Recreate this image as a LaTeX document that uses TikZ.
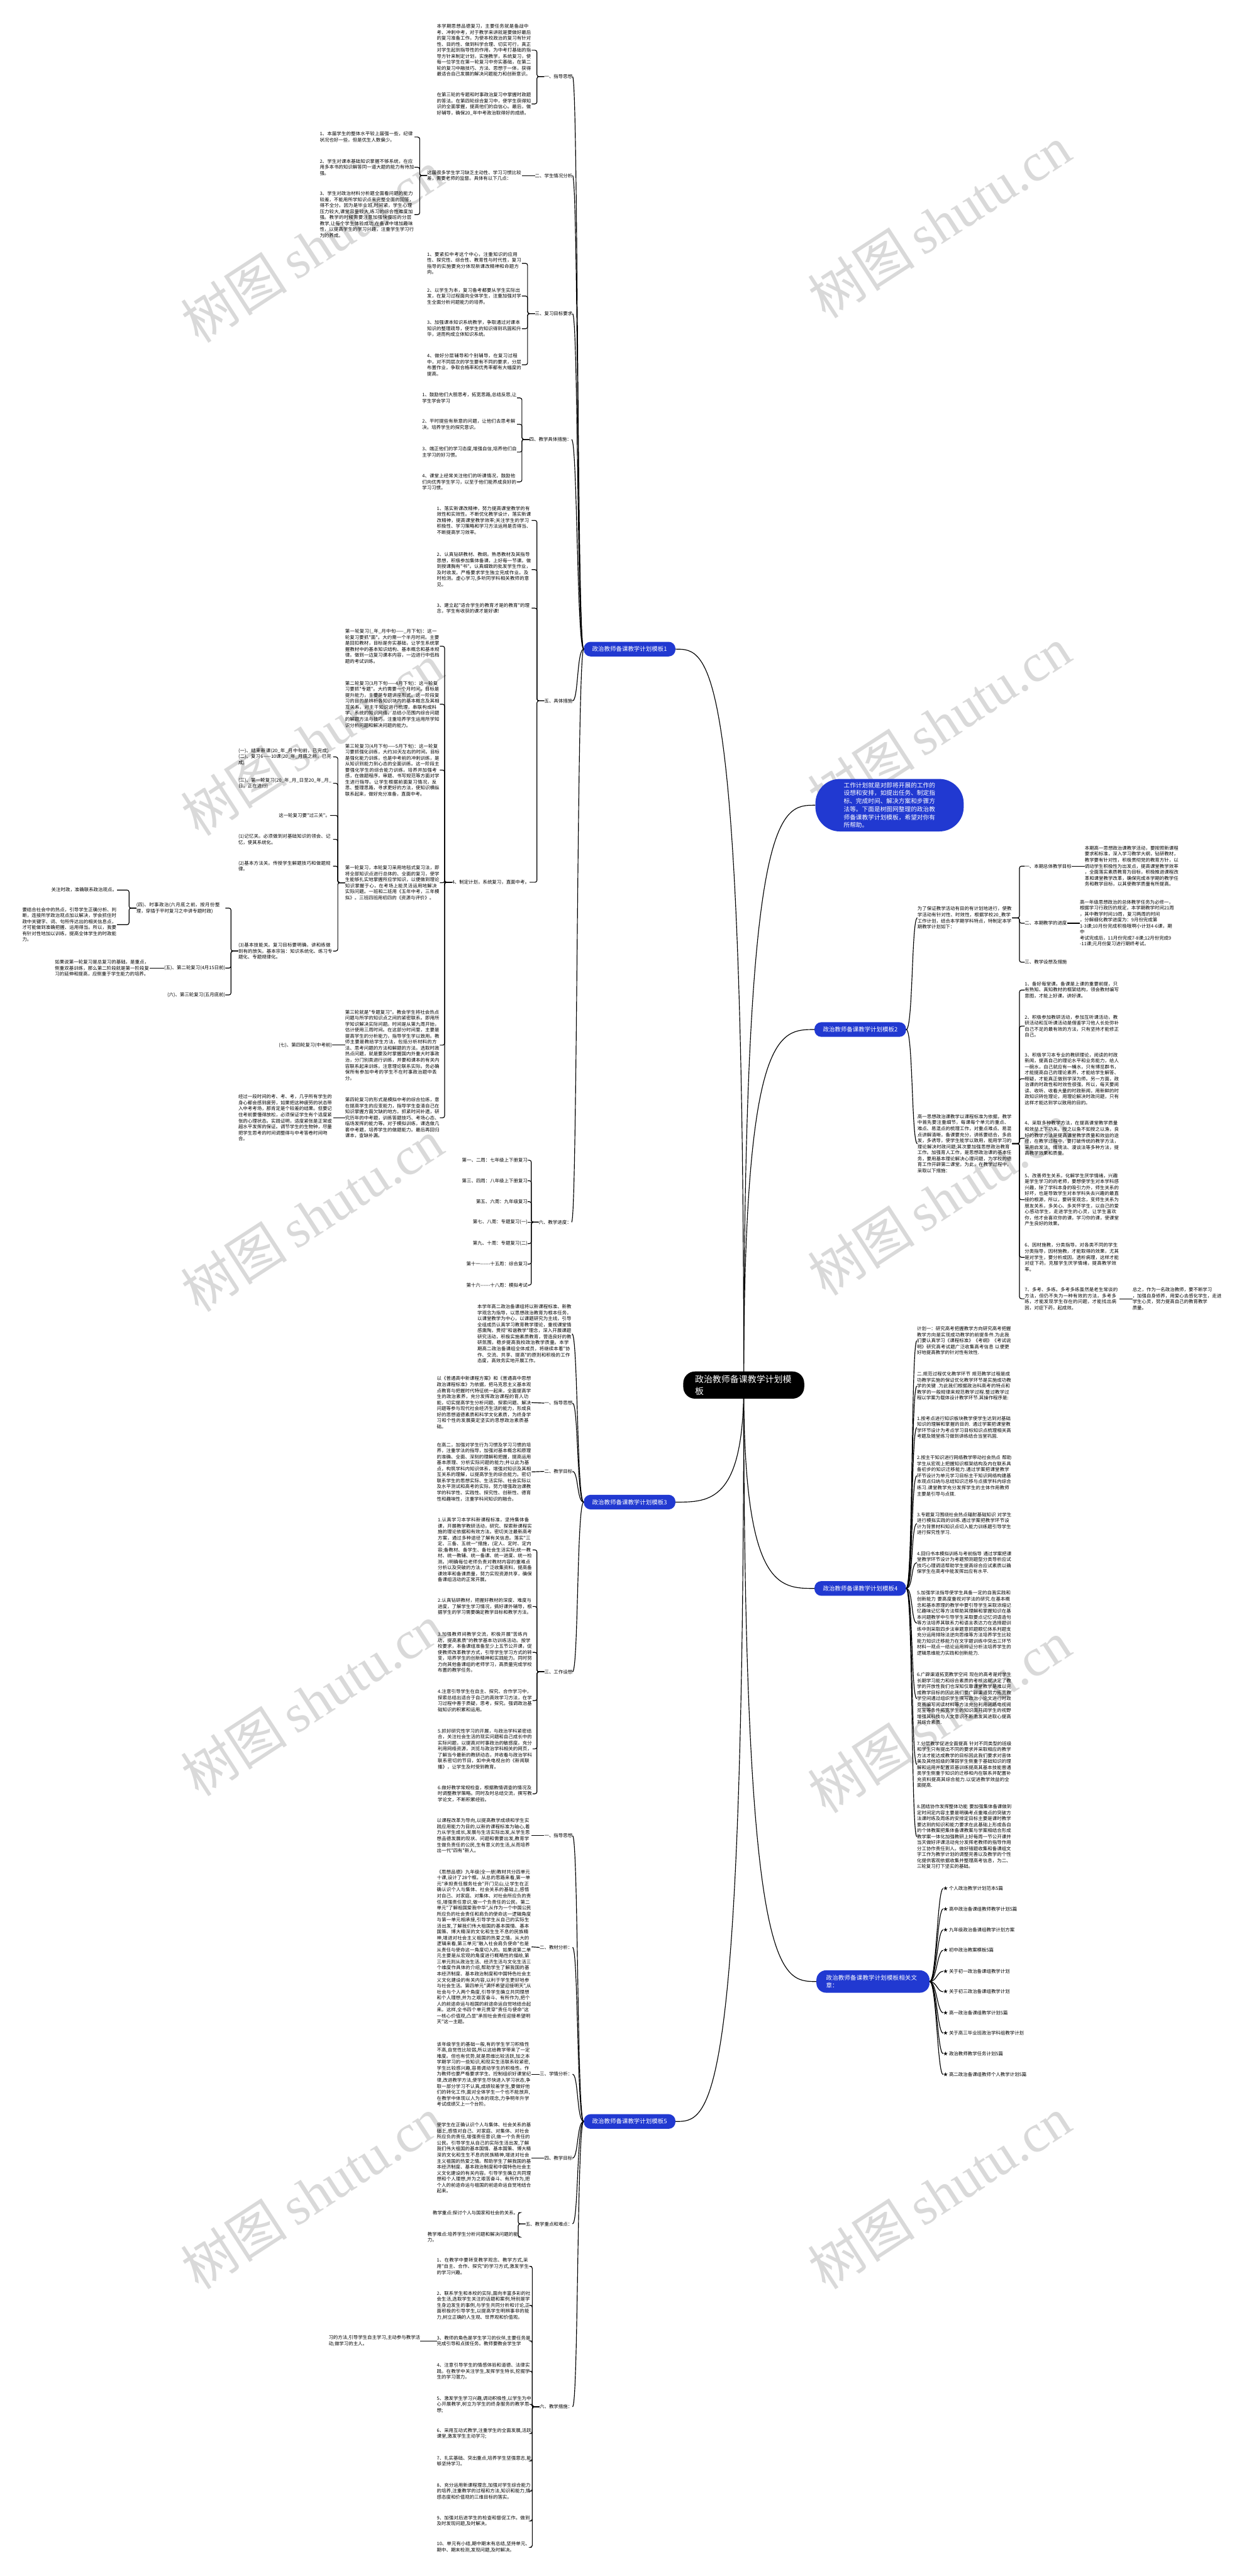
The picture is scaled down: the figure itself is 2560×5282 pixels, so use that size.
\documentclass[tikz,border=0pt]{standalone}
\usepackage{fontspec}
\newfontfamily\cjk{Noto Sans CJK SC}
\newfontfamily\wmlat{Liberation Serif}
\usetikzlibrary{calc}
\XeTeXlinebreaklocale "zh"
\XeTeXlinebreakskip=0pt plus 1pt
\definecolor{pblue}{HTML}{2139D1}
\pgfdeclarelayer{bg}
\pgfdeclarelayer{wmk}
\pgfsetlayers{bg,wmk,main}
\newcommand\tfnt{\cjk\fontsize{9.6}{12.3}\selectfont\lineskiplimit=-20pt\lineskip=0pt}
\newcommand\pfnt{\cjk\fontsize{12.2}{16}\selectfont}
\newcommand\ifnt{\cjk\fontsize{12.5}{16.4}\selectfont\lineskiplimit=-20pt}
\newcommand\cfnt{\cjk\fontsize{18}{25}\selectfont}
\newcommand\wmfnt{\fontsize{110}{110}\selectfont}
\newcommand\brL[2]{\draw[brk] (#1.west) -- ++(-15,0) |- (#2.east);}
\newcommand\brR[2]{\draw[brk] (#1.east) -- ++(15,0) |- (#2.west);}
\newcommand\cvL[2]{\draw[crv] (#1.west) .. controls +(-14,0) and +(12,0) .. (#2.east);}
\newcommand\cvR[2]{\draw[crv] (#1.east) .. controls +(14,0) and +(-12,0) .. (#2.west);}
\newcommand\stL[2]{\draw[crv] (#1.west) -- (#2.east);}
\newcommand\stR[2]{\draw[crv] (#1.east) -- (#2.west);}
\newcommand\ctL[1]{\draw[crv] (ctr.center) .. controls (ctr.center |- #1.east) and ($(ctr.center |- #1.east)!0.5!(#1.east)$) .. (#1.east);}
\newcommand\ctR[1]{\draw[crv] (ctr.center) .. controls (ctr.center |- #1.west) and ($(ctr.center |- #1.west)!0.5!(#1.west)$) .. (#1.west);}
\tikzset{
  txtL/.style={font=\tfnt, text width=194pt, align=left, inner sep=0pt, anchor=east},
  txtR/.style={font=\tfnt, text width=194pt, align=left, inner sep=0pt, anchor=west},
  lblL/.style={font=\tfnt, inner sep=0pt, anchor=east},
  lblR/.style={font=\tfnt, inner sep=0pt, anchor=west},
  brk/.style={line width=1.5pt, rounded corners=4pt},
  crv/.style={line width=1.5pt},
  pill/.style={fill=pblue, text=white, font=\pfnt, rounded corners=14pt, minimum height=30pt, minimum width=188pt, inner sep=0pt},
  wm/.style={text=black!15, rotate=33, inner sep=0pt, font=\wmfnt},
}
\begin{document}
\begin{tikzpicture}[x=1pt,y=-1pt]
\useasboundingbox (0,0) rectangle (2560,5282);
\begin{pgfonlayer}{bg}
\fill[white] (0,0) rectangle (2560,5282);
\end{pgfonlayer}

% ---------- watermarks ----------
\begin{pgfonlayer}{wmk}
\foreach \wx/\wy [count=\i] in {640/505,640/1516,640/2492,640/3486,640/4496,1926/455,1926/1482,1926/2459,1926/3520,1926/4496}
  \node[wm] (wm\i) at (\wx,\wy) {{\cjk 树图}\,{\wmlat shutu.cn}};
\end{pgfonlayer}

% ---------- center ----------
\node[fill=black, text=white, font=\cfnt, rounded corners=24pt, text width=200pt, align=left, inner xsep=24pt, inner ysep=7pt] (ctr) at (1525,2840) {政治教师备课教学计划模\\板};

% intro
\node[fill=pblue, text=white, font=\ifnt, rounded corners=50pt, text width=188pt, align=left, inner xsep=58pt, inner ysep=7pt] (intro) at (1824,1651) {工作计划就是对即将开展的工作的设想和安排，如提出任务、制定指标、完成时间、解决方案和步骤方法等。下面是树图网整理的政治教师备课教学计划模板，希望对你有所帮助。};

% ---------- branch nodes ----------
\node[pill] (B1) at (1291,1331) {政治教师备课教学计划模板1};
\node[pill] (B2) at (1764,2111) {政治教师备课教学计划模板2};
\node[pill] (B3) at (1291,3080) {政治教师备课教学计划模板3};
\node[pill] (B4) at (1764,3257) {政治教师备课教学计划模板4};
\node[pill] (B5) at (1291,4350) {政治教师备课教学计划模板5};
\node[pill, text width=192pt, align=left, minimum height=46pt, rounded corners=20pt, inner xsep=20pt] (B6) at (1790,4063) {政治教师备课教学计划模板相关文章：};

\begin{pgfonlayer}{bg}
\ctR{intro}
\ctL{B1}\ctR{B2}\ctL{B3}\ctR{B4}\ctL{B5}\ctR{B6}
\end{pgfonlayer}

% ================= Branch 1 =================
\node[lblL] (p1) at (1174,157) {一、指导思想};
\node[lblL] (p2) at (1174,360) {二、学生情况分析};
\node[lblL] (p3) at (1174,643) {三、复习目标要求};
\node[lblL] (p4) at (1172,901) {四、教学具体措施：};
\node[lblL] (p5) at (1174,1437) {五、具体措施};
\node[lblL] (p6) at (1172,2506) {六、教学进度：};
\cvL{B1}{p1}\cvL{B1}{p2}\cvL{B1}{p3}\cvL{B1}{p4}\cvL{B1}{p5}\cvL{B1}{p6}

\node[txtL] (a1) at (1090,103) {本学期思想品德复习，主要任务就是备战中考、冲刺中考，对于教学来讲就是要做好最后的复习准备工作。为使本校政治的复习有针对性、目的性、做到科学合理、切实可行，真正对学生起到指导性的作用，为中考打基础的指导方针来制定计划，实施教学，系统复习，使每一位学生在第一轮复习中夯实基础，在第二轮的复习中融技巧、方法、思想于一体，获得最适合自己发展的解决问题能力和创新意识。};
\node[txtL] (a2) at (1090,213) {在第三轮的专题和时事政治复习中掌握时政题的答法。在第四轮综合复习中，使学生获得知识的全面掌握，提高他们的自信心。最后，做好辅导，确保20\_年中考政治取得好的成绩。};
\brL{p1}{a1}\brL{p1}{a2}

\node[txtL] (b0) at (1070,360) {这届很多学生学习缺乏主动性、学习习惯比较差，需要老师的监督。具体有以下几点：};
\stL{p2}{b0}
\node[txtL] (b1) at (850,281) {1、本届学生的整体水平较上届强一些，纪律状况也好一些，但是优生人数偏少。};
\node[txtL] (b2) at (850,343) {2、学生对课本基础知识掌握不够系统，在应用多本书的知识解答同一道大题的能力有待加强。};
\node[txtL] (b3) at (850,440) {3、学生对政治材料分析题全面看问题的能力较差，不能用所学知识点来完整全面的回答，得不全分。因为是毕业班,时间紧，学生心理压力较大,课堂容量较大,练习的综合性难度加强。教学的时候需要注意加强快慢班的分层教学,让每个学生体验成功,在备课中增加趣味性，以提高学生的学习兴趣，注重学生学习行为的养成。};
\brL{b0}{b1}\brL{b0}{b2}\brL{b0}{b3}

\node[txtL] (c1) at (1070,540) {1、要紧扣中考这个中心，注重知识的应用性、探究性、综合性、教育性与时代性，复习指导的实施要充分体现新课改精神和命题方向。};
\node[txtL] (c2) at (1070,607) {2、以学生为本，复习备考都要从学生实际出发，在复习过程面向全体学生，注重加强对学生全面分析问题能力的培养。};
\node[txtL] (c3) at (1070,674) {3、加强课本知识系统教学，争取通过对课本知识的整理疏导，使学生的知识得到巩固和升华，进而构成立体知识系统。};
\node[txtL] (c4) at (1070,748) {4、做好分层辅导和个别辅导，在复习过程中，对不同层次的学生要有不同的要求，分层布置作业，争取合格率和优秀率都有大幅度的提高。};
\brL{p3}{c1}\brL{p3}{c2}\brL{p3}{c3}\brL{p3}{c4}

\node[txtL] (d1) at (1060,816) {1、鼓励他们大胆思考，拓宽思路,总结反思,让学生学会学习};
\node[txtL] (d2) at (1060,870) {2、平时提些有新意的问题，让他们去思考解决。培养学生的探究意识。};
\node[txtL] (d3) at (1060,927) {3、端正他们的学习态度,增强自信,培养他们自主学习的好习惯。};
\node[txtL] (d4) at (1060,988) {4、课堂上经常关注他们的听课情况，鼓励他们向优秀学生学习，以至于他们能养成良好的学习习惯。};
\brL{p4}{d1}\brL{p4}{d2}\brL{p4}{d3}\brL{p4}{d4}

\node[txtL] (e1) at (1090,1067) {1、落实新课改精神，努力提高课堂教学的有效性和实效性。不断优化教学设计，落实新课改精神，提高课堂教学效率;关注学生的学习积极性、学习策略和学习方法运用是否得当、不断提高学习效率。};
\node[txtL] (e2) at (1090,1168) {2、认真钻研教材、教纲。熟悉教材及其指导思想，积极参加集体备课，上好每一节课。做到授课胸有"书"。认真细致的批发学生作业，及时收发。严格要求学生独立完成作业。及时检测。虚心学习,多听同学科相关教师的意见。};
\node[txtL] (e3) at (1090,1247) {3、建立起"适合学生的教育才是的教育"的理念，学生有收获的课才是好课!};
\node[lblL] (e4) at (1086,1809) {4、制定计划，系统复习，直面中考。};
\brL{p5}{e1}\brL{p5}{e2}\brL{p5}{e3}\brL{p5}{e4}

\node[txtL] (f1) at (902,1325) {第一轮复习(\_年\_月中旬——\_月下旬)：这一轮复习要抓"面"。大约需一个半月时间。主要是回扣教材，目标是夯实基础，让学生系统掌握教材中的基本知识结构、基本概念和基本规律。做到一边复习课本内容，一边进行中低档题的考试训练。};
\node[txtL] (f2) at (902,1444) {第二轮复习(3月下旬——4月下旬)：这一轮复习要抓"专题"。大约需要一个月时间。目标是提升能力，主要是专题讲座形式。这一阶段复习的目的是辨析各知识块内的基本概念及其相互关系，对主干知识进行梳理，串联构成科学、系统的知识网络，总结小范围内综合问题的解题方法与技巧，注重培养学生运用所学知识分析问题和解决问题的能力。};
\node[txtL] (f3) at (902,1579) {第三轮复习(4月下旬——5月下旬)：这一轮复习要抓强化训练，大约30天左右的时间。目标是强化能力训练，也是中考前的冲刺训练，是从知识到能力到心态的全面训练。这一阶段主要强化学生的综合能力训练，培养并加强考感，在做题程序，审题、书写规范等方面对学生进行指导。让学生根据前面复习情况，反思、整理思路，寻求更好的方法，使知识横纵联系起来，做好充分准备，直面中考。};
\node[txtL] (f4) at (902,1810) {第一轮复习，本轮复习采用地毯式复习法，即将全部知识点进行总体的、全面的复习，使学生能够扎实地掌握所应学知识，以便做到理论知识掌握于心，在考场上能灵活运用地解决实际问题。一班和二班用《五年中考，三年模拟》。三班四班用初四的《资源与评价》。};
\node[txtL] (f5) at (902,2143) {第三轮就是"专题复习"。教会学生将社会热点问题与所学的知识点之间的紧密联系。即用所学知识解决实际问题。时间是从第九周开始，估计使用三周时间。在这部分时间里，主要是提高学生的分析能力，指导学生学以致用。教师主要是教给学生方法，包括分析材料的方法、思考问题的方法和解题的方法。选取时政热点问题，就是要及时掌握国内外重大时事政治，分门别类进行训练，并要和课本的有关内容联系起来训练，注意理论联系实际。务必确保所有参加中考的学生不在时事政治题中丢分。};
\node[txtL] (f6) at (902,2292) {第四轮复习的形式是模拟中考的综合拉练，意在提高学生的应变能力，指导学生查清自己在知识掌握方面欠缺的地方。抓紧时间补遗，研究历年的中考题，训练答题技巧、考场心态、临场发挥的能力等。对于模拟训练，课选做几套中考题，培养学生的做题能力。最后再回归课本，查缺补漏。};
\brL{e4}{f1}\brL{e4}{f2}\brL{e4}{f3}\brL{e4}{f4}\brL{e4}{f5}\brL{e4}{f6}

\node[txtL] (g1) at (683,1552) {(一)、结束新课(20\_年\_月中旬前，已完成)(二)、复习6——10课(20\_年\_月底之前，已完成)};
\node[txtL] (g2) at (683,1606) {(三)、第一轮复习(20\_年\_月\_日至20\_年\_月\_日，正在进行)};
\node[lblL] (g3) at (677,1672) {这一轮复习要"过三关"。};
\node[txtL] (g4) at (683,1721) {(1)记忆关。必须做到对基础知识的领会、记忆，使其系统化。};
\node[txtL] (g5) at (683,1776) {(2)基本方法关。传授学生解题技巧和做题规律。};
\node[txtL] (g6) at (683,1950) {(3)基本技能关。复习目标要明确，讲和练做到有的放矢。基本宗旨：知识系统化、练习专题化、专题规律化。};
\brL{f4}{g1}\brL{f4}{g2}\brL{f4}{g3}\brL{f4}{g4}\brL{f4}{g5}\brL{f4}{g6}

\node[txtL, text width=182pt] (h1) at (462,1862) {(四)、时事政治(六月底之前，按月份整理，穿插于平时复习之中讲专题时政)};
\node[lblL] (h2) at (462,1985) {(五)、第二轮复习(4月15日前)};
\node[lblL] (h3) at (462,2040) {(六)、第三轮复习(五月底前)};
\brL{g6}{h1}\brL{g6}{h2}\brL{g6}{h3}

\node[lblL] (i1) at (240,1825) {关注时政，准确联系政治观点。};
\node[txtL] (i2) at (240,1896) {要结合社会中的热点，引导学生正确分析、判断，连接所学政治观点加以解决，学会抓住时政中关键字、词、句所传达出的相关信息点，才可能做到准确把握、运用得当。所以，我要有针对性地加以训练，提高全体学生的时政能力。};
\brL{h1}{i1}\brL{h1}{i2}
\node[txtL] (j1) at (307,1985) {如果说第一轮复习是总复习的基础，是重点，侧重双基训练，那么第二阶段就是第一阶段复习的延伸和提高，应侧重于学生能力的培养。};
\stL{h2}{j1}
\node[lblL] (k1) at (681,2143) {(七)、第四轮复习(中考前)};
\stL{f5}{k1}
\node[txtL] (l1) at (683,2292) {经过一段时间的考、考、考，几乎所有学生的\\身心都会感到疲劳，如果把这种疲劳的状态带\\入中考考场，那肯定是个较差的结果。但要记\\住考前要懂得放松，必须保证学生有个适度紧\\张的心理状态。实践证明，适度紧张是正常或\\超水平发挥的保证。调节学生的生物钟，尽量\\把学生思考的时间调整得与中考答卷时间吻\\合。};
\stL{f6}{l1}

\node[lblL] (m1) at (1082,2379) {第一、二周：七年级上下册复习};
\node[lblL] (m2) at (1082,2421) {第三、四周：八年级上下册复习};
\node[lblL] (m3) at (1082,2464) {第五、六周：九年级复习};
\node[lblL] (m4) at (1082,2506) {第七、八周：专题复习(一)};
\node[lblL] (m5) at (1082,2550) {第九、十周：专题复习(二)};
\node[lblL] (m6) at (1082,2592) {第十一-{}-{}-{}-{}-{}-十五周：综合复习};
\node[lblL] (m7) at (1082,2635) {第十六-{}-{}-{}-{}-{}-十八周：模拟考试};
\brL{p6}{m1}\brL{p6}{m2}\brL{p6}{m3}\stL{p6}{m4}\brL{p6}{m5}\brL{p6}{m6}\brL{p6}{m7}

% ================= Branch 2 =================
\node[txtR] (n1) at (1881,1882) {为了保证教学活动有目的有计划地进行，使教学活动有针对性、时效性，根据学校20\_教学工作计划，结合本学期学科特点，特制定本学期教学计划如下：};
\node[txtR] (n2) at (1881,2345) {高一思想政治课教学以课程标准为依据，教学中首先要注重细节，每课每个单元的重点、难点、易混点的梳理工作，对重点难点、易混点讲解清晰，备课要充分，讲练要结合，多启发，多诱导，使学生能学以致用，能用学习的理论解决时政问题;其次要加强思想政治教育工作。加强育人工作，是思想政治课的基本任务，要用基本理论解决心理问题，为学校的德育工作开辟第二课堂。为此，在教学过程中，采取以下措施：};
\cvR{B2}{n1}\cvR{B2}{n2}

\node[lblR] (q1) at (2101,1776) {一、本期总体教学目标};
\node[lblR] (q2) at (2101,1893) {二、本期教学的进度};
\node[lblR] (q3) at (2101,1973) {三、教学设想及措施};
\brR{n1}{q1}\brR{n1}{q2}\brR{n1}{q3}
\node[txtR] (q1c) at (2224,1776) {本期高一思想政治课教学活动，要按照新课程\\要求和标准，深入学习教学大纲，钻研教材，\\教学要有针对性，积极贯彻党的教育方针，以\\调动学生积极性为出发点，提高课堂教学效率\\，全面落实素质教育为目标，积极推进课程改\\革和课堂教学改革，确保完成本学期的教学任\\务和教学目标，以其使教学质量有所提高。};
\node[txtR] (q2c) at (2214,1893) {高一年级思想政治的总体教学任务为必修一，\\根据学习行政历的规定，本学期教学时间21周\\，其中教学时间19周，复习两周的时间\\，分解细化教学进度为：9月份完成第\\1-3课;10月份完成积极哦啊小计划4-6课，期中\\考试完成后，11月份完成7-8课;12月份完成9\\-11课;元月份复习进行期终考试。};
\stR{q1}{q1c}\stR{q2}{q2c}

\node[txtR] (r1) at (2101,2030) {1、备好每堂课。备课是上课的重要前提，只有熟知、真知教材的框架结构，领会教材编写意图，才能上好课，讲好课。};
\node[txtR] (r2) at (2101,2104) {2、积极参加教研活动，参加互听课活动，教研活动和互听课活动是借鉴学习他人长处弥补自己不足的最有效的方法，只有坚持才能修正自己。};
\node[txtR] (r3) at (2101,2212) {3、积极学习本专业的教研理论，阅读的时政新闻，提高自己的理论水平和业务能力，给人一碗水，自己就应有一桶水，只有博览群书，才能提高自己的理论素养，才能给学生解答、释疑，才能真正做到学深为师。另一方面，政治课的时政性和时效性很强，所以，每天要阅读、收听、收看大量的时政新闻，用新鲜的时政知识转佐理论，用理论解决时政问题，只有这样才能达到学以致用的目的。};
\node[txtR] (r4) at (2101,2334) {4、采取多种教学方法，在提高课堂教学质量和效益上下功夫。授之以鱼不如授之以渔，良好的教学方法是提高课堂教学质量和效益的途径，在教学过程中，要打破传统的教学方法，采用启发法、情境法、漫谈法等多种方法，提高教学效果和质量。};
\node[txtR] (r5) at (2101,2460) {5、改善师生关系，化解学生厌学情绪，兴趣是学生学习的的老师，要想使学生对本学科感兴趣，除了学科本身的吸引力外，师生关系的好坏，也是导致学生对本学科失去兴趣的最直接的根源，所以，要转变观念，变师生关系为朋友关系，多关心、多关怀学生，以自己的爱心感动学生，走进学生的心灵，让学生喜欢你，他才会喜欢你的课，学习你的课，使课堂产生良好的效果。};
\node[txtR] (r6) at (2101,2578) {6、因材施教，分类指导。对各类不同的学生分类指导，因材施教，才能取得的效果，尤其是对学生，要分析成因，透析病理，这样才能对症下药，克服学生厌学情绪，提高教学效率。};
\node[txtR] (r7) at (2101,2663) {7、多考、多练。多考多练虽然是老生常谈的方法，但仍不失为一种有效的方法，多考多练，才能发现学生存在的问题，才能找出病因，对症下药，起成效。};
\brR{n2}{r1}\brR{n2}{r2}\brR{n2}{r3}\brR{n2}{r4}\brR{n2}{r5}\brR{n2}{r6}\brR{n2}{r7}
\node[txtR] (r7c) at (2322,2663) {总之，作为一名政治教师，要不断学习\\，加强自身修养，用爱心去感化学生，走进\\学生心灵，努力提高自己的教育教学\\质量。};
\stR{r7}{r7c}

% ================= Branch 3 =================
\node[txtL] (s0) at (1173,2735) {本学年高二政治备课组将以新课程标准、新教学观念为指导，以思想政治教育为根本任务，以课堂教学为中心，以课题研究为主线，引导全组成员认真学习教育教学理论，重视课堂情感熏陶，贯彻"和谐教学"理念，深入开展课题研究活动，积极实施素质教育，营造良好的教研氛围，稳步提高我校政治教学质量。本学期高二政治备课组全体成员，将继续本着"协作、交流、共享、提高"的原则和积极的工作态度，高效务实地开展工作。};
\node[lblL] (s1) at (1174,2877) {一、指导思想};
\node[lblL] (s2) at (1174,3017) {二、教学目标};
\node[lblL] (s3) at (1174,3428) {三、工作设想};
\cvL{B3}{s0}\cvL{B3}{s1}\cvL{B3}{s2}\cvL{B3}{s3}
\node[txtL] (s1c) at (1090,2876) {以《普通高中新课程方案》和《普通高中思想政治课程标准》为依据，把马克思主义基本观点教育与把握时代特征统一起来，全面提高学生的政治素养，充分发挥政治课程的育人功能，切实提高学生分析问题、探索问题、解决问题等参与现代社会经济生活的能力，形成良好的思想道德素质和科学文化素质，为终身学习和个性的发展奠定坚实的思想政治素质基础。};
\node[txtL] (s2c) at (1090,3018) {在高二，加强对学生行为习惯及学习习惯的培养，注重学法的指导，加强对基本概念和原理的准确、全面、深刻的理解和把握，提高运用基本原理、分析实际问题的能力;并以此为基点，构筑学科内知识体系，增强对知识及其相互关系的理解，以提高学生的综合能力。密切联系学生的思想实际、生活实际、社会实际以及水平测试和高考的实际，努力增强政治课教学的科学性、实践性、探究性、创新性、德育性和趣味性，注重学科间知识的融合。};
\stL{s1}{s1c}\stL{s2}{s2c}
\node[txtL] (t1) at (1092,3178) {1.认真学习本学科新课程标准，坚持集体备课，开展教学教研活动，研究、探索新课程实施的理论依据和有效方法。密切关注最新高考方案，通过多种途径了解有关信息。落实"三定、三备、五统一"措施，(定人、定时、定内容;备教材、备学生、备社会生活实际;统一教材、统一教辅、统一备课、统一进度、统一检测。)明确每位老师负责对教材内容的重难点分析以及突破的方法，广泛收集资料，提高备课效率和备课质量，努力实现资源共享，确保备课组活动的正常开展。};
\node[txtL] (t2) at (1092,3294) {2.认真钻研教材，把握好教材的深度、难度与进度，了解学生学习情况，搞好课外辅导，根据学生的学习需要确定教学目标和教学方法。};
\node[txtL] (t3) at (1092,3388) {3.加强教师间教学交流，积极开展"苦练内功，提高素质"的教学基本功训练活动。按学校要求，本备课组准备至少上五节公开课，促使教师改革教学方式，引导学生学习方式的转变，培养学生的创新精神和实践能力。同时努力向其他备课组的老师学习，高质量完成学校布置的教学任务。};
\node[txtL] (t4) at (1092,3487) {4.注意引导学生在自主、探究、合作学习中，探索总结出适合于自己的高效学习方法，在学习过程中善于质疑，思考，探究。强调政治基础知识的积累和运用。};
\node[txtL] (t5) at (1092,3586) {5.抓好研究性学习的开展，与政治学科紧密结合，关注社会生活的现实问题和自己成长中的实际问题，以提高对时事政治的敏感度。充分利用网络资源，浏览与政治学科相关的网页，了解当今最新的教研动态，并收看与政治学科联系密切的节目，如中央电视台的《新闻联播》，让学生及时受到教育。};
\node[txtL] (t6) at (1092,3678) {6.做好教学常规检查，根据教情调查的情况及时调整教学策略。同时及时总结交流，撰写教学论文，不断积累经验。};
\brL{s3}{t1}\brL{s3}{t2}\brL{s3}{t3}\brL{s3}{t4}\brL{s3}{t5}\brL{s3}{t6}

% ================= Branch 5 =================
\node[lblL] (u1) at (1174,3764) {一、指导思想};
\node[lblL] (u2) at (1174,3993) {二、教材分析：};
\node[lblL] (u3) at (1174,4253) {三、学情分析：};
\node[lblL] (u4) at (1174,4425) {四、教学目标};
\node[lblL] (u5) at (1174,4560) {五、教学重点和难点：};
\node[lblL] (u6) at (1174,4935) {六、教学措施：};
\cvL{B5}{u1}\cvL{B5}{u2}\cvL{B5}{u3}\cvL{B5}{u4}\cvL{B5}{u5}\cvL{B5}{u6}
\node[txtL] (u1c) at (1090,3764) {以课程改革为导向,以提高教学成绩和学生实践应用能力为目的,以新的课程标准为轴心,着力从学生成长,发展与生活实际出发,从学生思想品德发展的现状、问题和需要出发,教育学生做负责任的公民,生有意义的生活,从而培养出一代"四有"新人。};
\node[txtL] (u2c) at (1090,3992) {《思想品德》九年级(全一册)教材共分四单元十课,设计了28个框。从总的思路来看,第一单元"承担责任服务社会"开门见山,让学生在正确认识个人与集体、社会关系的基础上,感悟对自己、对家庭、对集体、对社会所应负的责任,增强责任意识,做一个负责任的公民。第二单元"了解祖国爱我中华",从作为一个中国公民所应负的社会责任和肩负的使命这一逻辑角度与第一单元相承接,引导学生从自己的实际生活出发,了解我们伟大祖国的基本国情、基本国策、博大精深的文化和生生不息的民族精神,增进对社会主义祖国的热爱之情。从大的逻辑来看,第三单元"融入社会肩负使命"也是从责任与使命这一角度切入的。如果说第二单元主要是从宏观的角度进行概略性的描绘,第三单元则从政治生活、经济生活与文化生活三个维度作具体的介绍,帮助学生了解我国的基本经济制度、基本政治制度和中国特色社会主义文化建设的有关内容,以利于学生更好地参与社会生活。第四单元"满怀希望迎接明天",从社会与个人两个角度,引导学生确立共同理想和个人理想,并为之艰苦奋斗、有所作为,把个人的前途命运与祖国的前途命运自觉地结合起来。这样,全书四个单元贯穿"责任与使命"这一核心价值观,凸显"承担社会责任迎接希望明天"这一主题。};
\node[txtL] (u3c) at (1090,4253) {该年级学生的基础一般,有的学生学习积极性不高,自觉性比较弱,所以这给教学带来了一定难度。但也有优势,就是思维比较活跃,加之本学期学习的一些知识,和现实生活联系较紧密,学生比较感兴趣,容易调动学生的积极性。作为教师也要严格要求学生、控制组织好课堂纪律,改进教学方法,使学生尽快进入学习状态,争取一部分学习不认真,成绩较差学生,要做好他们的转化工作,面对全体学生一个也不能放弃,在教学中体现以人为本的观念,力争明年升学考试成绩又上一个台阶。};
\node[txtL] (u4c) at (1090,4425) {使学生在正确认识个人与集体、社会关系的基础上,感悟对自己、对家庭、对集体、对社会所应负的责任,增强责任意识,做一个负责任的公民。引导学生从自己的实际生活出发,了解我们伟大祖国的基本国情、基本国策、博大精深的文化和生生不息的民族精神,增进对社会主义祖国的热爱之情。帮助学生了解我国的基本经济制度、基本政治制度和中国特色社会主义文化建设的有关内容。引导学生确立共同理想和个人理想,并为之艰苦奋斗、有所作为,把个人的前途命运与祖国的前途命运自觉地结合起来。};
\stL{u1}{u1c}\stL{u2}{u2c}\stL{u3}{u3c}\stL{u4}{u4c}
\node[lblL] (u5a) at (1063,4537) {教学重点:探讨个人与国家和社会的关系。};
\node[txtL, text width=186pt] (u5b) at (1063,4587) {教学难点:培养学生分析问题和解决问题的能力。};
\brL{u5}{u5a}\brL{u5}{u5b}
\node[txtL] (v6a) at (1090,4647) {1、在教学中要转变教学观念、教学方式,采用"自主、合作、探究"的学习方式,激发学生的学习兴趣。};
\node[txtL] (v6b) at (1090,4727) {2、联系学生和本校的实际,面向丰富多彩的社会生活,选取学生关注的话题和案例,特别是学生身边发生的事例,与学生共同分析和讨论,正面积极的引导学生,以提高学生明辨事非的能力,树立正确的人生观、世界观和价值观。};
\node[txtL] (v6c) at (1090,4800) {3、教师的角色是学生学习的伙伴,主要任务是完成引导和点拨任务。教师要教会学生学};
\node[txtL] (v6d) at (1090,4862) {4、注意引导学生的情感体验和道德、法律实践。在教学中关注学生,发挥学生特长,挖掘学生的学习潜力。};
\node[txtL] (v6e) at (1090,4930) {5、激发学生学习兴趣,调动积极性,以学生为中心开展教学,树立为学生的终身服务的教学思想;};
\node[txtL] (v6f) at (1090,4990) {6、采用互动式教学,注重学生的全面发展,活跃课堂,激发学生主动学习;};
\node[txtL] (v6g) at (1090,5046) {7、扎实基础、突出重点,培养学生坚强意志,能够坚持学习。};
\node[txtL] (v6h) at (1090,5108) {8、充分运用新课程理念,加强对学生综合能力的培养,注重教学的过程和方法,知识和能力,情感态度和价值观的三维目标的落实。};
\node[txtL] (v6i) at (1090,5169) {9、加强对后进学生的检查和督促工作。做到及时发现问题,及时解决。};
\node[txtL] (v6j) at (1090,5223) {10、单元有小结,期中期末有总结,坚持单元、期中、期末检测,发现问题,及时解决。};
\brL{u6}{v6a}\brL{u6}{v6b}\brL{u6}{v6c}\brL{u6}{v6d}\brL{u6}{v6e}\brL{u6}{v6f}\brL{u6}{v6g}\brL{u6}{v6h}\brL{u6}{v6i}\brL{u6}{v6j}
\node[txtL, text width=188pt] (v6cc) at (862,4800) {习的方法,引导学生自主学习,主动参与教学活动,做学习的主人。};
\stL{v6c}{v6cc}

% ================= Branch 4 =================
\node[txtR] (x1) at (1880,2749) {计划一：研究高考把握教学方向研究高考把握教学方向是实现成功教学的前提条件.为此我们要认真学习《课程标准》《考纲》《考试说明》研究高考试题广泛收集高考信息 以便更好地提高教学的针对性有效性.};
\node[txtR] (x2) at (1880,2842) {二.规范过程优化教学环节 规范教学过程是成功教学实施的保证优化教学环节是实施成功教学的关键 .为此我们根据政治科高考的特点和教学的一般规律来规范教学过程.整过教学过程以学案为载体设计教学环节.其操作程序是:};
\node[txtR] (x3) at (1880,2927) {1.按考点进行知识板块教学使学生达到对基础知识的理解和掌握的目的. 通过学案把课堂教学环节设计为考点学习目标知识点梳理相关高考题及随堂练习做到讲练结合当堂巩固.};
\node[txtR] (x4) at (1880,3026) {2.按主干知识进行网络教学带动社会热点 帮助学生从宏观上把握知识框架结构及内在联系具备初步的知识迁移能力.通过学案把课堂教学环节设计为单元学习目标主干知识网络构建基本观点归纳与总结知识迁移与点拨学科内综合练习.课堂教学充分发挥学生的主体作用教师主要是引导与点拨.};
\node[txtR] (x5) at (1880,3124) {3.专题复习围绕社会热点辐射基础知识 对学生进行模拟实践的训练.通过学案把教学环节设计为背景材料知识点切入能力训练题引导学生进行探究性学习.};
\node[txtR] (x6) at (1880,3204) {4.回归书本模拟训练与考前指导 通过学案把课堂教学环节设计为考题预测题型分类导析应试技巧心理调适帮助学生提高综合应试素质以确保学生在高考中能发挥出应有水平.};
\node[txtR] (x7) at (1880,3328) {5.加强学法指导使学生具备一定的自我实践和创新能力 要高度重视对学法的研究.在基本概念和基本原理的教学中要引导学生采取浓缩记忆趣味记忆等方法帮助其理解和掌握知识在基本问题教学中引导学生采取要点记忆词语造句等方法培养其联系力和语言表达力在选择题训练中则采取四步法审题意抓题眼忆体系判题支充分运用排除法逆向思维等方法培养学生比较能力知识迁移能力在文字题训练中突出三环节材料一观点一结论运用辨证分析法培养学生的逻辑思维能力实践和创新能力.};
\node[txtR] (x8) at (1880,3483) {6.广辟渠道拓宽教学空间 现在的高考是对学生长期学习能力和综合素质的考核这就决定了教学的开放性我们也深知仅靠课堂教学是难以完成教学目标的因此我们要广辟渠道努力拓宽教学空间通过组织学生撰写政治小论文进行时政竞赛编写阅读材料等方法充分利用闭路电视阅览室等条件拓宽学生的知识面开阔学生的视野增强其科技与人文意识不断激发其进取心提高其综合素质.};
\node[txtR] (x9) at (1880,3618) {7.分层教学促进全面提高 针对不同类型的班级和学生只有提出不同的要求并采取相应的教学方法才能达成教学的目标因此我们要求对音体美及其他班级的薄弱学生侧重于基础知识的理解和运用并配置双基训练提高其基本技能普通类学生侧重于知识的迁移和内在联系并配置补充资料提高其综合能力.以促进教学效益的全面提高.};
\node[txtR] (x10) at (1880,3766) {8.团结协作发挥整体功能 要加强集体备课做到定时间定内容主要是明确考点重难点的突破方法课时练及周练的安排定目标主要是课时教学要达到的知识和能力要求在此基础上形成各自的个体教案把集体备课教案与学案相结合形成教学案一体化加强教研上好每周一节公开课并当天做好评课活动充分发挥老教师的指导作用分工协作责任到人。做好错题收集和备课组文字工作为教学计划的调整完善以及教学的个性化提供客观依据收集并整理高考信息，为二、三轮复习打下坚实的基础。};
\foreach \k in {1,...,10}{\cvR{B4}{x\k}}

% ================= Related =================
\node[lblR] (w1) at (1934,3872) {★ 个人政治教学计划范本5篇};
\node[lblR] (w2) at (1934,3914) {★ 高中政治备课组教师教学计划5篇};
\node[lblR] (w3) at (1934,3957) {★ 九年级政治备课组教学计划方案};
\node[lblR] (w4) at (1934,3999) {★ 初中政治教案模板5篇};
\node[lblR] (w5) at (1934,4042) {★ 关于初一政治备课组教学计划};
\node[lblR] (w6) at (1934,4084) {★ 关于初三政治备课组教学计划};
\node[lblR] (w7) at (1934,4127) {★ 高一政治备课组教学计划5篇};
\node[lblR] (w8) at (1934,4169) {★ 关于高三毕业班政治学科组教学计划};
\node[lblR] (w9) at (1934,4211) {★ 政治教师教学任务计划5篇};
\node[lblR] (w10) at (1934,4254) {★ 高二政治备课组教师个人教学计划5篇};
\foreach \k in {1,...,10}{\cvR{B6}{w\k}}
\end{tikzpicture}
\end{document}
